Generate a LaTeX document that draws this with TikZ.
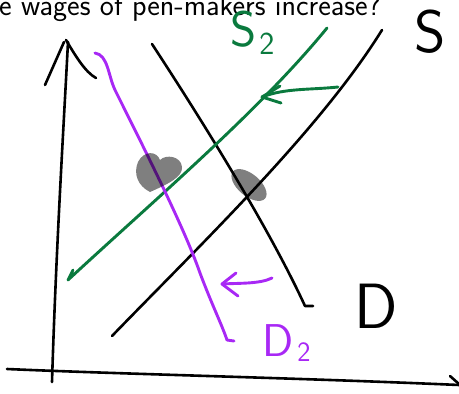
\documentclass[tikz,border=0pt]{standalone}
\usepackage{amsmath}
\usetikzlibrary{positioning}
\definecolor{inkgreen}{RGB}{10,122,62}
\definecolor{inkpurple}{RGB}{168,40,245}
\tikzset{
  blackink/.style={draw=black, line width=2.6pt, line cap=round, line join=round},
  greenink/.style={draw=inkgreen, line width=2.9pt, line cap=round, line join=round},
  purpleink/.style={draw=inkpurple, line width=2.9pt, line cap=round, line join=round},
  blob/.style={fill=black, opacity=0.5},
  hand/.style={font=\sffamily, inner sep=0pt}
}
\begin{document}
\begin{tikzpicture}[x=1pt, y=-1pt]
  \useasboundingbox (0,0) rectangle (459,394);
  \begin{scope}
  \clip (0,0) rectangle (459,394);
  \node[anchor=base west, inner sep=0pt, font=\sffamily\fontsize{30}{30}\selectfont] (question) at (-1,15) {e wages of pen-makers increase?};
  % axes
  \draw[blackink] (52,382) .. controls (56,250) and (64,120) .. (68,42);
  \draw[blackink] (45,85) -- (64,42);
  \draw[blackink] (66,40) .. controls (75,55) and (85,72) .. (96,78);
  \draw[blackink] (7,369) .. controls (120,374) and (300,378) .. (459,385);
  \draw[blackink] (450,376) -- (459,384);
  % demand and supply
  \draw[blackink] (152,44) .. controls (205,125) and (270,230) .. (305,306) -- (313,306);
  \draw[blackink] (112,336) .. controls (200,245) and (320,130) .. (382,30);
  \draw[greenink] (73,270) -- (68,280) .. controls (160,195) and (260,110) .. (327,28);
  \draw[purpleink] (95,53) .. controls (108,55) and (108,75) .. (115,90)
    .. controls (150,160) and (185,230) .. (200,273)
    .. controls (212,305) and (222,325) .. (227,340) -- (234,341);
  % shifts
  \draw[greenink] (338,87) .. controls (310,90) and (285,88) .. (262,97);
  \draw[greenink] (280,86) -- (262,97) -- (281,103);
  \draw[purpleink] (272,278) .. controls (260,284) and (240,283) .. (222,284);
  \draw[purpleink] (236,273) -- (222,284) -- (238,296);
  % blobs
  \fill[blob] (150,192) .. controls (138,186) and (133,174) .. (138,162)
    .. controls (144,150) and (157,151) .. (160,160)
    .. controls (166,154) and (181,156) .. (182,167)
    .. controls (183,177) and (168,184) .. (150,192) -- cycle;
  \fill[blob, rotate around={-40:(249,185)}] (249,185) ellipse [x radius=21, y radius=11];
  % labels
  \node[hand, text=inkgreen, font=\sffamily\fontsize{50}{50}\selectfont] (labS2) at (244,29) {S};
  \node[hand, text=inkgreen, font=\sffamily\fontsize{32}{32}\selectfont] (labS2sub) at (267,44) {2};
  \node[hand, text=black, font=\sffamily\fontsize{60}{60}\selectfont] (labS) at (430,32) {S};
  \node[hand, text=black, font=\sffamily\fontsize{64}{64}\selectfont] (labD) at (376,306) {D};
  \node[hand, text=inkpurple, font=\sffamily\fontsize{46}{46}\selectfont] (labD2) at (278,341) {D};
  \node[hand, text=inkpurple, font=\sffamily\fontsize{28}{28}\selectfont] (labD2sub) at (304,352) {2};
  \end{scope}
\end{tikzpicture}
\end{document}
